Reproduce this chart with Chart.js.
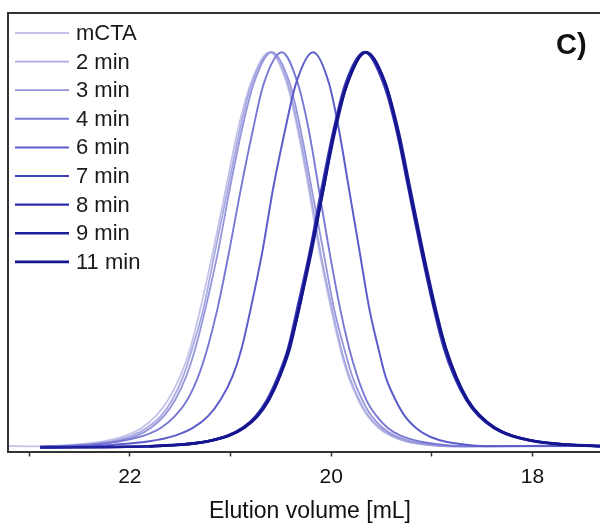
<!DOCTYPE html>
<html>
<head>
<meta charset="utf-8">
<script src="https://cdn.jsdelivr.net/npm/chart.js@4"></script>
<style>
  html, body { margin: 0; padding: 0; background: #fff; overflow: hidden; }
  #wrap { width: 620px; height: 524px; }
</style>
</head>
<body>
<div id="wrap"><canvas id="chart"></canvas></div>
<script>
// подписи и оси
const labels = ['mCTA', '2 min', '3 min', '4 min', '6 min', '7 min', '8 min', '9 min', '11 min'];
const tickValues = [23, 22, 21, 20, 19, 18];
const tickLabels = [22, 20, 18];

// уровни интенсивности (норм.), общие для всех кривых
const levels = [0.003, 0.007, 0.015, 0.03, 0.05, 0.08, 0.12, 0.18, 0.25, 0.35, 0.5, 0.65, 0.8, 0.92, 1];

// объём элюции на каждом уровне: левая ветвь (больше мл) и правая ветвь
const mctaLeft  = [22.93, 22.57, 22.28, 22.04, 21.88, 21.74, 21.62, 21.50, 21.40, 21.30, 21.17, 21.05, 20.93, 20.80, 20.61];
const mctaRight = [18.84, 19.06, 19.25, 19.41, 19.53, 19.64, 19.73, 19.83, 19.91, 20.00, 20.12, 20.22, 20.33, 20.44, 20.61];
const min2Left  = [22.79, 22.47, 22.20, 21.98, 21.83, 21.69, 21.58, 21.47, 21.38, 21.27, 21.15, 21.03, 20.91, 20.79, 20.60];
const min2Right = [18.83, 19.05, 19.24, 19.40, 19.52, 19.63, 19.72, 19.82, 19.90, 19.99, 20.11, 20.21, 20.32, 20.43, 20.60];
const min3Left  = [22.69, 22.39, 22.14, 21.93, 21.79, 21.66, 21.55, 21.44, 21.35, 21.25, 21.12, 21.01, 20.89, 20.77, 20.59];
const min3Right = [18.78, 19.01, 19.20, 19.37, 19.49, 19.60, 19.69, 19.79, 19.87, 19.97, 20.08, 20.19, 20.30, 20.41, 20.59];
const min4Left  = [22.79, 22.41, 22.11, 21.86, 21.69, 21.55, 21.43, 21.32, 21.23, 21.13, 21.01, 20.90, 20.78, 20.67, 20.49];
const min4Right = [18.63, 18.90, 19.12, 19.31, 19.44, 19.55, 19.65, 19.74, 19.82, 19.91, 20.02, 20.12, 20.22, 20.33, 20.49];
const min6Left  = [22.58, 22.16, 21.82, 21.55, 21.37, 21.22, 21.10, 20.98, 20.89, 20.80, 20.68, 20.58, 20.46, 20.35, 20.18];
const min6Right = [18.41, 18.66, 18.87, 19.04, 19.16, 19.27, 19.36, 19.46, 19.53, 19.62, 19.72, 19.82, 19.92, 20.02, 20.18];
const min7Left  = [21.83, 21.51, 21.25, 21.03, 20.88, 20.75, 20.64, 20.53, 20.43, 20.34, 20.21, 20.10, 19.98, 19.86, 19.67];
const min7Right = [17.30, 17.67, 17.97, 18.22, 18.39, 18.54, 18.66, 18.78, 18.88, 18.98, 19.11, 19.23, 19.35, 19.48, 19.67];
const min8Left  = [21.82, 21.50, 21.24, 21.02, 20.87, 20.74, 20.63, 20.52, 20.42, 20.33, 20.20, 20.09, 19.97, 19.85, 19.66];
const min8Right = [17.29, 17.66, 17.96, 18.21, 18.38, 18.53, 18.65, 18.77, 18.87, 18.97, 19.10, 19.22, 19.34, 19.47, 19.66];
const min9Left  = [21.81, 21.49, 21.23, 21.01, 20.86, 20.73, 20.62, 20.51, 20.41, 20.32, 20.19, 20.08, 19.96, 19.84, 19.65];
const min9Right = [17.28, 17.65, 17.95, 18.20, 18.37, 18.52, 18.64, 18.76, 18.86, 18.96, 19.09, 19.21, 19.33, 19.46, 19.65];
const min11Left  = [21.81, 21.50, 21.24, 21.02, 20.87, 20.73, 20.62, 20.51, 20.42, 20.32, 20.20, 20.08, 19.97, 19.84, 19.66];
const min11Right = [17.29, 17.66, 17.96, 18.21, 18.38, 18.52, 18.65, 18.76, 18.86, 18.97, 19.10, 19.22, 19.34, 19.46, 19.66];

// хвосты базовой линии
const tailStart = [23.21, 22.89, 22.89, 22.89, 22.89, 22.89, 22.89, 22.89, null];
const tailStartLevel = [0.004, 0.002, 0.002, 0.002, 0.002, 0.0, 0.0, 0.0, 0.0];
const tailEnd = [17.1, 17.1, 17.1, 17.1, 17.1, 17.1, 17.1, 17.1, 17.1];
const tailEndLevel = [0.006, 0.006, 0.005, 0.005, 0.004, 0.001, 0.001, 0.001, 0.001];

const lefts = [mctaLeft, min2Left, min3Left, min4Left, min6Left, min7Left, min8Left, min9Left, min11Left];
const rights = [mctaRight, min2Right, min3Right, min4Right, min6Right, min7Right, min8Right, min9Right, min11Right];

const colors = ['#c3c3ea', '#a9a9e2', '#9595dc', '#7878d4', '#5c5cca', '#4242be', '#2c2cae', '#1f1f9e', '#15158e'];
const widths = [1.8, 1.8, 1.8, 1.9, 2, 2.2, 2.3, 2.5, 2.8];

function buildCurve(i) {
  const pts = [];
  if (tailStart[i] !== null) pts.push({ x: tailStart[i], y: tailStartLevel[i] });
  lefts[i].forEach((v, k) => pts.push({ x: v, y: levels[k] }));
  for (let k = levels.length - 2; k >= 0; k--) pts.push({ x: rights[i][k], y: levels[k] });
  pts.push({ x: tailEnd[i], y: tailEndLevel[i] });
  return pts;
}

const FONT = '"Liberation Sans", Arial, sans-serif';

// рамка, легенда и буква панели
const decor = {
  id: 'decor',
  afterDatasetsDraw(chart) {
    const { ctx, chartArea: a } = chart;
    ctx.save();
    ctx.strokeStyle = '#333';
    ctx.lineWidth = 2;
    ctx.beginPath();
    ctx.moveTo(a.left, a.bottom);
    ctx.lineTo(a.left, a.top);
    ctx.lineTo(a.right, a.top);
    ctx.stroke();

    ctx.font = `22px ${FONT}`;
    ctx.textBaseline = 'middle';
    ctx.fillStyle = '#1a1a1a';
    chart.data.datasets.forEach((ds, i) => {
      const y = 33 + i * 28.6;
      ctx.strokeStyle = ds.borderColor;
      ctx.lineWidth = ds.borderWidth;
      ctx.beginPath();
      ctx.moveTo(15, y);
      ctx.lineTo(69, y);
      ctx.stroke();
      ctx.fillText(ds.label, 76, y + 1);
    });

    ctx.font = `bold 29px ${FONT}`;
    ctx.textBaseline = 'alphabetic';
    ctx.fillStyle = '#111';
    ctx.fillText('C)', 556, 54);
    ctx.restore();
  }
};

new Chart(document.getElementById('chart'), {
  type: 'line',
  data: {
    datasets: labels.map((label, i) => ({
      label,
      data: buildCurve(i),
      borderColor: colors[i],
      borderWidth: widths[i],
      pointRadius: 0,
      fill: false,
      cubicInterpolationMode: 'monotone',
      order: labels.length - 1 - i,
    })),
  },
  options: {
    responsive: true,
    maintainAspectRatio: false,
    animation: false,
    devicePixelRatio: 1,
    layout: { padding: { left: 8, right: 8, top: 13, bottom: 0 } },
    plugins: { legend: { display: false }, tooltip: { enabled: false } },
    scales: {
      x: {
        type: 'linear',
        reverse: true,
        min: 17.21,
        max: 23.21,
        afterBuildTicks: (axis) => { axis.ticks = tickValues.map(v => ({ value: v })); },
        ticks: {
          autoSkip: false,
          maxRotation: 0,
          padding: 8,
          color: '#111',
          font: { family: FONT, size: 21 },
          callback: (v) => tickLabels.includes(v) ? String(v) : '',
        },
        grid: { drawOnChartArea: false, drawTicks: true, tickLength: 5, tickWidth: 1.5, tickColor: '#333' },
        border: { display: true, color: '#333', width: 2 },
        title: {
          display: true,
          text: 'Elution volume [mL]',
          color: '#111',
          font: { family: FONT, size: 23, lineHeight: 1.1 },
          padding: { top: 1, bottom: 0 },
        },
      },
      y: {
        type: 'linear',
        display: false,
        min: -0.0102,
        max: 1.0992,
      },
    },
  },
  plugins: [decor],
});
</script>
</body>
</html>
